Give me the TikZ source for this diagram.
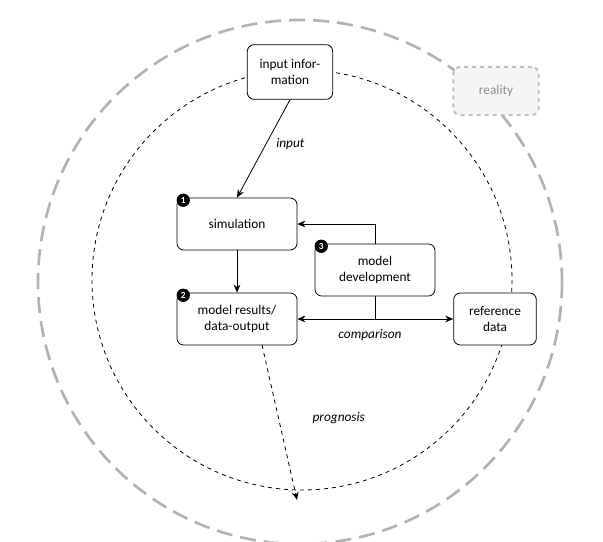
\documentclass[tikz,border=0pt]{standalone}
\usepackage{fontspec}
\setmainfont{Carlito}
\usetikzlibrary{arrows.meta}
\begin{document}
\begin{tikzpicture}[x=0.75pt,y=-0.75pt,
  box/.style={draw,rounded corners=5pt,fill=white,minimum width=90pt,minimum height=39pt,align=center,font=\fontsize{10}{12}\selectfont,line width=0.6pt},
  badge/.style={circle,fill=black,text=white,inner sep=0pt,minimum size=10pt,font=\fontsize{7}{7}\bfseries\selectfont},
  arr/.style={-{Stealth[length=6pt,width=5pt]},line width=0.6pt},
  lab/.style={font=\fontsize{10}{12}\itshape\selectfont}]
\useasboundingbox (0,0) rectangle (603,542);
\draw[gray!60,line width=2pt,dash pattern=on 12pt off 6pt] (300,282) circle (262);
\draw[dashed,line width=0.6pt] (302,280) circle (210);
\node[box,minimum width=64pt,minimum height=41pt] (inp) at (290,72) {input infor-\\mation};
\node[box,draw=gray!50,fill=gray!8,text=gray!90,dashed,line width=1.5pt,minimum width=64pt,minimum height=36pt] (real) at (496,91) {reality};
\node[box] (sim) at (237,224) {simulation};
\node[box] (res) at (237,319) {model results/\\data-output};
\node[box] (dev) at (375,270) {model\\development};
\node[box,minimum width=62pt] (ref) at (495,319) {reference\\data};
\node[badge] at (sim.north west) [xshift=5pt,yshift=-2pt] {1};
\node[badge] at (res.north west) [xshift=5pt,yshift=-2pt] {2};
\node[badge] at (dev.north west) [xshift=5pt,yshift=-2pt] {3};
\draw[arr] (inp.south) -- node[lab,right,pos=0.45,xshift=4pt]{input} (sim.north);
\draw[arr] (sim) -- (res);
\draw[{Stealth[length=6pt,width=5pt]}-{Stealth[length=6pt,width=5pt]},line width=0.6pt] (res) -- node[lab,below,yshift=-4pt,xshift=-4pt]{comparison} (ref);
\coordinate (j) at (dev.south |- res.east);
\draw[line width=0.6pt] (dev.south) -- (j);
\draw[arr] (dev.north) |- (sim.east);
\coordinate (pe) at (297,500);
\draw[arr,dashed] (262,345) -- node[lab,right,pos=0.47,xshift=22pt]{prognosis} (pe);
\end{tikzpicture}
\end{document}
